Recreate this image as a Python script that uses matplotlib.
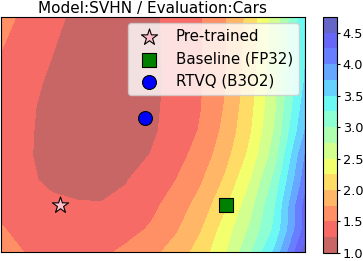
import matplotlib
matplotlib.use('Agg')
import matplotlib.pyplot as plt
import numpy as np
from matplotlib.colors import ListedColormap

# grid coordinates in the plane (pre-trained at origin, baseline at (1, 0))
alphas = [-0.36, -0.2, -0.05, 0.1, 0.25, 0.4, 0.55, 0.7, 0.85, 1.0, 1.15, 1.3, 1.48]
betas = [-0.285, -0.15, 0.0, 0.15, 0.3, 0.45, 0.6, 0.75, 0.9, 1.14]

# loss values, one row per beta (bottom to top)
loss = [
    [1.56, 1.49, 1.43, 1.42, 1.45, 1.55, 1.68, 1.85, 2.11, 2.47, 2.96, 3.56, 4.60],
    [1.52, 1.42, 1.36, 1.34, 1.36, 1.42, 1.53, 1.72, 1.98, 2.37, 2.79, 3.31, 4.35],
    [1.44, 1.36, 1.30, 1.27, 1.26, 1.30, 1.43, 1.62, 1.84, 2.20, 2.65, 3.24, 4.33],
    [1.39, 1.29, 1.20, 1.17, 1.18, 1.24, 1.37, 1.50, 1.72, 2.04, 2.49, 3.08, 4.12],
    [1.38, 1.27, 1.18, 1.13, 1.12, 1.16, 1.26, 1.41, 1.60, 1.91, 2.32, 2.89, 4.00],
    [1.39, 1.28, 1.17, 1.11, 1.10, 1.13, 1.21, 1.35, 1.52, 1.82, 2.22, 2.78, 3.75],
    [1.42, 1.29, 1.18, 1.11, 1.09, 1.12, 1.20, 1.33, 1.49, 1.77, 2.17, 2.71, 3.63],
    [1.45, 1.32, 1.21, 1.13, 1.10, 1.12, 1.19, 1.32, 1.48, 1.74, 2.13, 2.68, 3.52],
    [1.49, 1.36, 1.25, 1.15, 1.12, 1.13, 1.20, 1.32, 1.48, 1.73, 2.12, 2.65, 3.48],
    [1.58, 1.44, 1.31, 1.20, 1.14, 1.15, 1.20, 1.33, 1.48, 1.73, 2.09, 2.61, 3.44],
]

levels = np.arange(1.0, 4.76, 0.25)
cbar_ticks = [1.0, 1.5, 2.0, 2.5, 3.0, 3.5, 4.0, 4.5]

pretrained = (0.0, 0.0)
baseline = (1.0, 0.0)
rtvq = (0.51, 0.53)

# jet_r faded onto white (same look as alpha=0.6, but without seams)
base = plt.get_cmap('jet_r')(np.linspace(0, 1, 256))
base[:, :3] = base[:, :3] * 0.6 + 0.4
faded = ListedColormap(base)

fig = plt.figure(figsize=(3.63, 2.61), dpi=100)
ax = fig.add_axes([0.002, 0.0345, 0.838, 0.9005])
cax = fig.add_axes([0.890, 0.031, 0.0386, 0.904])

cs = ax.contourf(alphas, betas, np.array(loss), levels=levels, cmap=faded)
ax.scatter(*pretrained, marker='*', s=150, c='pink', edgecolors='black', linewidths=0.8,
           label='Pre-trained', zorder=3)
ax.scatter(*baseline, marker='s', s=100, c='green', edgecolors='black', linewidths=0.8,
           label='Baseline (FP32)', zorder=3)
ax.scatter(*rtvq, marker='o', s=100, c='blue', edgecolors='black', linewidths=0.8,
           label='RTVQ (B3O2)', zorder=3)
ax.set_xticks([])
ax.set_yticks([])
ax.set_title('Model:SVHN / Evaluation:Cars', fontsize=11, pad=3)
ax.legend(loc='upper right', fontsize=10.8, borderaxespad=0.4)

cb = fig.colorbar(cs, cax=cax)
cb.set_ticks(cbar_ticks)
cb.ax.tick_params(labelsize=9.3, length=2.5, pad=1.5)

fig.savefig('out.png', dpi=100)
